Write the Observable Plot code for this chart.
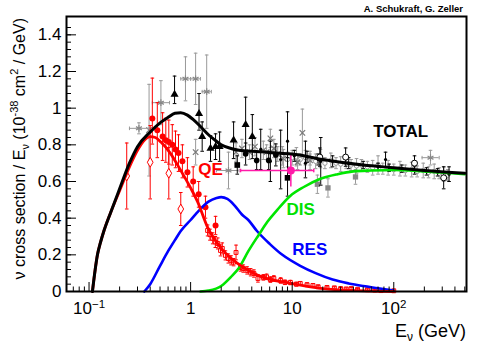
<!DOCTYPE html>
<html><head><meta charset="utf-8">
<script src="https://cdn.jsdelivr.net/npm/d3@7"></script>
<script src="https://cdn.jsdelivr.net/npm/@observablehq/plot@0.6"></script>
<style>
body{margin:0;background:#fff;}
#chart svg{display:block;font-family:"Liberation Sans",Arial,Helvetica,sans-serif;}
</style>
</head><body><div id="chart"></div>
<script>
// ---------- model curves (E in GeV, cross section / E in 1e-38 cm^2/GeV) ----------
const totalE  = [0.108,0.115,0.121,0.13,0.14,0.163,0.2,0.25,0.3,0.4,0.5,0.6,0.7,0.8,0.93,1.05,1.25,1.5,1.7,2.0,2.5,3,4,5,7,10,20,30,50,100,200,500];
const totalXS = [0,0.12,0.2,0.27,0.33,0.43,0.56,0.70,0.79,0.87,0.92,0.95,0.972,0.975,0.962,0.94,0.9,0.855,0.83,0.80,0.78,0.77,0.765,0.762,0.755,0.75,0.72,0.705,0.69,0.675,0.66,0.645];
const qeE  = [0.108,0.115,0.121,0.13,0.14,0.163,0.2,0.25,0.3,0.35,0.4,0.45,0.51,0.63,0.8,1.0,1.17,1.47,1.97,2.9,4.6,9.7,20,44,100];
const qeXS = [0,0.12,0.2,0.27,0.33,0.43,0.55,0.68,0.77,0.825,0.845,0.84,0.815,0.755,0.66,0.565,0.49,0.35,0.24,0.153,0.088,0.044,0.016,0.005,0];
const resE  = [0.35,0.4,0.5,0.6,0.7,0.8,1.0,1.2,1.5,1.8,2.0,2.3,2.7,3.2,3.7,4.5,6,8,12,17,25,36,50,70,100];
const resXS = [0,0.04,0.14,0.22,0.28,0.33,0.39,0.44,0.49,0.51,0.515,0.505,0.47,0.42,0.39,0.33,0.26,0.20,0.14,0.10,0.065,0.044,0.03,0.018,0.005];
const disE  = [1.25,1.5,2,2.5,3,3.7,4.7,5.7,7,9.5,13,19,28,40,60,100,200,500];
const disXS = [0,0.005,0.03,0.08,0.13,0.22,0.31,0.38,0.44,0.52,0.57,0.615,0.64,0.655,0.66,0.663,0.655,0.64];

// ---------- data points: [E, xs, errDown, errUp] ----------
const redFilled = [[0.42,0.944,0.14,0.22],[0.47,0.88,0.15,0.15],[0.53,0.845,0.13,0.13],[0.57,0.825,0.12,0.12],[0.61,0.815,0.12,0.12],[0.66,0.80,0.11,0.11],[0.71,0.775,0.10,0.10],[0.76,0.755,0.10,0.10],[0.83,0.71,0.09,0.09],[0.93,0.65,0.08,0.08],[1.06,0.60,0.08,0.08],[1.2,0.53,0.07,0.07],[1.4,0.46,0.06,0.06],[1.76,0.36,0.05,0.05]];
const redOpen = [[0.235,0.63,0.18,0.18],[0.40,0.705,0.2,0.2],[0.61,0.645,0.14,0.14],[0.80,0.45,0.09,0.09]];
const redSmall = [[1.47,0.333,0.03,0.03],[1.55,0.31,0.03,0.03],[1.65,0.29,0.03,0.03],[1.75,0.27,0.03,0.03],[1.85,0.262,0.03,0.03],[1.97,0.224,0.03,0.03],[2.05,0.235,0.03,0.03],[2.2,0.197,0.025,0.025],[2.35,0.18,0.025,0.025],[2.5,0.17,0.025,0.025],[2.65,0.16,0.02,0.02],[2.8,0.213,0.04,0.04],[3.1,0.131,0.02,0.02],[3.3,0.125,0.02,0.02],[3.6,0.115,0.02,0.02],[3.9,0.105,0.02,0.02],[4.2,0.098,0.02,0.02],[4.6,0.071,0.02,0.02],[5.2,0.077,0.015,0.015],[5.6,0.08,0.015,0.015],[6.1,0.065,0.015,0.015],[6.6,0.071,0.015,0.015],[7.7,0.06,0.015,0.015],[8.5,0.05,0.012,0.012],[9.6,0.049,0.012,0.012],[11,0.04,0.01,0.01],[12,0.044,0.01,0.01],[14,0.037,0.01,0.01],[16,0.033,0.01,0.01],[18,0.026,0.008,0.008],[22,0.022,0.008,0.008],[26,0.02,0.006,0.006],[30,0.016,0.006,0.006],[34,0.014,0.006,0.006],[38,0.016,0.006,0.006],[44,0.012,0.005,0.005],[55,0.01,0.005,0.005],[65,0.008,0.004,0.004],[75,0.005,0.004,0.004],[100,0.004,0.003,0.003]];
const blackTri = [[0.695,1.075,0.05,0.10],[1.21,0.97,0.09,0.11],[1.30,0.845,0.08,0.08],[1.57,0.78,0.07,0.07],[1.76,0.79,0.07,0.07],[1.93,0.79,0.08,0.08],[2.65,0.825,0.1,0.1],[3.48,0.91,0.15,0.15],[4.05,0.845,0.12,0.12]];
const blackCircle = [[3.48,0.75,0.06,0.06],[4.47,0.715,0.05,0.05],[5.87,0.715,0.05,0.05],[6.9,0.745,0.06,0.06]];
const blackSquare = [[2.88,0.69,0.05,0.05],[9.0,0.62,0.10,0.11]];
const blackBars = [[4.9,0.775,0.11,0.11],[6.1,0.71,0.11,0.11],[7.7,0.72,0.16,0.16],[9.0,0.82,0.16,0.16],[19.1,0.71,0.13,0.13],[13.5,0.70,0.08,0.12],[10.5,0.74,0.03,0.03],[14,0.735,0.03,0.03],[18,0.72,0.03,0.03],[25,0.71,0.03,0.03],[36,0.70,0.03,0.03],[50,0.69,0.02,0.02],[70,0.68,0.02,0.02],[83,0.72,0.04,0.04],[90,0.675,0.02,0.02],[120,0.67,0.02,0.02],[160,0.66,0.02,0.02],[210,0.655,0.02,0.02],[270,0.65,0.02,0.02],[350,0.64,0.04,0.04]];
const blackOpen = [[18.7,0.733,0.05,0.05],[33.6,0.733,0.05,0.05],[160,0.70,0.04,0.04],[310,0.62,0.06,0.06]];
// gray stars with horizontal bars: [E, xs, Elow, Ehigh, errDown, errUp]
const grayStar = [[0.31,0.89,0.25,0.39,0.03,0.03],[0.51,1.03,0.42,0.62,0.12,0.12],[0.89,1.16,0.80,1.0,0.12,0.12],[1.12,1.16,1.0,1.25,0.14,0.14],[1.44,1.09,1.3,1.6,0.2,0.2],[2.36,0.66,1.8,3.0,0.1,0.1],[230,0.73,190,280,0.04,0.04]];
const grayMisc = [[0.39,0.88,0.25,0.25],[1.12,0.76,0.07,0.07],[12.6,0.865,0.13,0.13],[2.8,0.76,0.05,0.05],[3.2,0.78,0.05,0.05],[3.8,0.76,0.04,0.04],[4.3,0.79,0.05,0.05],[5.2,0.77,0.05,0.05],[5.6,0.76,0.04,0.04],[6.1,0.835,0.05,0.05],[6.6,0.78,0.05,0.05],[7.2,0.75,0.04,0.04],[8.2,0.725,0.05,0.05],[11.3,0.705,0.04,0.04],[15,0.715,0.05,0.05]];
const grayBand = [[8,0.74,0.05,0.05],[9,0.72,0.04,0.04],[10,0.73,0.04,0.04],[11,0.735,0.05,0.05],[12,0.72,0.03,0.03],[13.5,0.73,0.04,0.04],[15,0.72,0.03,0.03],[17,0.71,0.04,0.04],[19,0.725,0.05,0.05],[21,0.70,0.03,0.03],[24,0.715,0.04,0.04],[27,0.70,0.03,0.03],[30,0.695,0.04,0.04],[34,0.70,0.03,0.03],[38,0.69,0.03,0.03],[43,0.685,0.04,0.04],[48,0.69,0.03,0.03],[55,0.68,0.03,0.03],[62,0.675,0.04,0.04],[70,0.69,0.05,0.05],[78,0.67,0.03,0.03],[88,0.675,0.04,0.04],[100,0.665,0.03,0.03],[115,0.67,0.04,0.04],[130,0.66,0.03,0.03],[150,0.665,0.04,0.04],[170,0.655,0.03,0.03],[195,0.66,0.04,0.04],[220,0.65,0.03,0.03],[250,0.655,0.04,0.04],[280,0.645,0.03,0.03],[310,0.64,0.04,0.04],[340,0.635,0.03,0.03]];
const graySquare = [[17.7,0.585,0.05,0.05],[22.5,0.565,0.05,0.05],[42,0.625,0.04,0.04]];
// magenta point: [E, xs, Elow, Ehigh, xsLow, xsHigh]
const magentaPt = [[9.7,0.66,3.1,16.3,0.57,0.745]];

// ---------- labels & ticks ----------
const curveLabels = [
  {text:"TOTAL", E:117, xs:0.875, color:"#000000"},
  {text:"QE", E:1.57, xs:0.667, color:"#ff0000"},
  {text:"DIS", E:12.1, xs:0.448, color:"#00e000"},
  {text:"RES", E:14.9, xs:0.23, color:"#0000ff"}
];
const xMajorTicks = [0.1, 1, 10, 100];
const xTickLabels = ["10^−1", "1", "10", "10^2"];
const yMajorTicks = [0, 0.2, 0.4, 0.6, 0.8, 1, 1.2, 1.4];
const yTickLabels = ["0", "0.2", "0.4", "0.6", "0.8", "1", "1.2", "1.4"];
const xMinorTicks = [];
for (const d of [-2,-1,0,1,2]) for (let k = 2; k <= 9; k++) { const v = k * Math.pow(10, d); if (v >= 0.06 && v <= 520) xMinorTicks.push(v); }
const yMinorTicks = d3.range(0, 37).map(i => i * 0.04).filter(v => v <= 1.5);

// ---------- helpers ----------
const curve = (E, XS) => E.map((e, i) => ({E: e, xs: XS[i]}));
const pts = arr => arr.map(([E, xs, lo, hi]) => ({E, xs, lo: xs - lo, hi: xs + hi}));
const capSym = {draw(ctx){ ctx.moveTo(-1.8,0); ctx.lineTo(1.8,0); }};
const vcapSym = {draw(ctx){ ctx.moveTo(0,-1.8); ctx.lineTo(0,1.8); }};
function errBars(data, color, sw = 1) {
  return [
    Plot.ruleX(data, {x:"E", y1:"lo", y2:"hi", stroke:color, strokeWidth:sw}),
    Plot.dot(data, {x:"E", y:"lo", symbol:capSym, stroke:color, fill:"none", strokeWidth:sw}),
    Plot.dot(data, {x:"E", y:"hi", symbol:capSym, stroke:color, fill:"none", strokeWidth:sw})
  ];
}
function hBars(data, color, sw = 1) {
  return [
    Plot.ruleY(data, {y:"xs", x1:"elo", x2:"ehi", stroke:color, strokeWidth:sw}),
    Plot.dot(data, {x:"elo", y:"xs", symbol:vcapSym, stroke:color, fill:"none", strokeWidth:sw}),
    Plot.dot(data, {x:"ehi", y:"xs", symbol:vcapSym, stroke:color, fill:"none", strokeWidth:sw})
  ];
}

const dRedFilled = pts(redFilled), dRedOpen = pts(redOpen), dRedSmall = pts(redSmall);
const dBlackTri = pts(blackTri), dBlackCircle = pts(blackCircle), dBlackSquare = pts(blackSquare), dBlackBars = pts(blackBars), dBlackOpen = pts(blackOpen);
const dGrayMisc = pts(grayMisc), dGrayBand = pts(grayBand), dGraySquare = pts(graySquare);
const dGrayStar = grayStar.map(([E, xs, elo, ehi, lo, hi]) => ({E, xs, elo, ehi, lo: xs - lo, hi: xs + hi}));
const dMagenta = magentaPt.map(([E, xs, elo, ehi, lo, hi]) => ({E, xs, elo, ehi, lo, hi}));

const RED = "#ff0000", GRAY = "#999999", BLACK = "#000000", MAG = "#ff1aa8";

const chart = Plot.plot({
  width: 498, height: 344,
  marginLeft: 66, marginRight: 32, marginTop: 16, marginBottom: 53,
  style: {fontFamily: '"Liberation Sans", Arial, sans-serif', background: "#fff"},
  x: {type: "log", domain: [0.06, 520]},
  y: {domain: [0, 1.5]},
  marks: [
    // gray data
    ...errBars(dGrayBand, GRAY), Plot.dot(dGrayBand, {x:"E", y:"xs", r:2.2, stroke:GRAY, fill:"white", strokeWidth:1}),
    ...errBars(dGrayMisc, GRAY), Plot.dot(dGrayMisc, {x:"E", y:"xs", symbol:"times", r:2.6, stroke:"#777", strokeWidth:1.2}),
    ...errBars(dGraySquare, GRAY), Plot.dot(dGraySquare, {x:"E", y:"xs", symbol:"square", r:3, fill:"#888"}),
    ...errBars(dGrayStar, GRAY), ...hBars(dGrayStar, GRAY), Plot.dot(dGrayStar, {x:"E", y:"xs", symbol:"asterisk", r:3.2, stroke:"#888", strokeWidth:1.2}),
    // black data
    ...errBars(dBlackBars, BLACK), Plot.dot(dBlackBars, {x:"E", y:"xs", r:1.6, fill:BLACK}),
    ...errBars(dBlackOpen, BLACK), Plot.dot(dBlackOpen, {x:"E", y:"xs", r:3, stroke:BLACK, fill:"white", strokeWidth:1}),
    ...errBars(dBlackTri, BLACK), Plot.dot(dBlackTri, {x:"E", y:"xs", symbol:"triangle", r:3, fill:BLACK}),
    ...errBars(dBlackCircle, BLACK), Plot.dot(dBlackCircle, {x:"E", y:"xs", r:2.8, fill:BLACK}),
    ...errBars(dBlackSquare, BLACK), Plot.dot(dBlackSquare, {x:"E", y:"xs", symbol:"square", r:3.2, fill:BLACK}),
    // magenta
    Plot.ruleX(dMagenta, {x:"E", y1:"lo", y2:"hi", stroke:MAG, strokeWidth:1.5}),
    ...hBars(dMagenta, MAG, 1.5),
    Plot.dot(dMagenta, {x:"E", y:"xs", r:4, fill:MAG}),
    // red data
    ...errBars(dRedSmall, RED), Plot.dot(dRedSmall, {x:"E", y:"xs", symbol:"square", r:2.2, stroke:RED, fill:"none", strokeWidth:1}),
    ...errBars(dRedOpen, RED), Plot.dot(dRedOpen, {x:"E", y:"xs", symbol:"diamond", r:3, stroke:RED, fill:"white", strokeWidth:1}),
    ...errBars(dRedFilled, RED), Plot.dot(dRedFilled, {x:"E", y:"xs", r:3, fill:RED}),
    // model curves
    Plot.line(curve(resE, resXS), {x:"E", y:"xs", stroke:"#0000ff", strokeWidth:2.6, curve:"monotone-x"}),
    Plot.line(curve(disE, disXS), {x:"E", y:"xs", stroke:"#00e600", strokeWidth:2.6, curve:"monotone-x"}),
    Plot.line(curve(qeE, qeXS), {x:"E", y:"xs", stroke:RED, strokeWidth:2.8, curve:"monotone-x"}),
    Plot.line(curve(totalE, totalXS), {x:"E", y:"xs", stroke:BLACK, strokeWidth:3, curve:"monotone-x"}),
    // curve labels
    Plot.text(curveLabels, {x:"E", y:"xs", text:"text", fill:"color", fontWeight:"bold", fontSize:17}),
    // axes: ticks pointing inward
    Plot.axisX({ticks: xMajorTicks, tickSize: -9, tickFormat: () => "", label: null, strokeWidth: 1}),
    Plot.axisX({ticks: xMinorTicks, tickSize: -4.5, tickFormat: () => "", label: null, strokeWidth: 1}),
    Plot.axisX({ticks: xMajorTicks, tickSize: 0, tickPadding: 10, fontSize: 17, label: null,
                tickFormat: d => xTickLabels[xMajorTicks.indexOf(d)]}),
    Plot.axisY({ticks: yMajorTicks, tickSize: -10, tickFormat: () => "", label: null}),
    Plot.axisY({ticks: yMinorTicks, tickSize: -5, tickFormat: () => "", label: null}),
    Plot.axisY({ticks: yMajorTicks, tickSize: 0, tickPadding: 5, fontSize: 17, label: null,
                tickFormat: d => yTickLabels[yMajorTicks.indexOf(d)]}),
    Plot.frame({stroke: BLACK, strokeWidth: 2})
  ]
});
document.getElementById("chart").appendChild(chart);

// superscripts in x tick labels
const svg = d3.select(chart);
svg.selectAll("text").each(function() {
  const t = this.textContent;
  if (t && t.includes("^")) {
    const [base, sup] = t.split("^");
    const el = d3.select(this);
    el.text(null);
    el.append("tspan").text(base);
    el.append("tspan").attr("dy", "-0.5em").attr("font-size", "0.68em").text(sup);
  }
});

// axis titles and credit
const font = '"Liberation Sans", Arial, sans-serif';
const yt = svg.append("text").attr("transform", "translate(25,18) rotate(-90)")
  .attr("text-anchor", "end").attr("font-size", 16).attr("font-family", font).attr("fill", "#000");
yt.append("tspan").text("ν cross section / E");
yt.append("tspan").attr("dy", 4).attr("font-size", 11).text("ν");
yt.append("tspan").attr("dy", -4).text(" (10");
yt.append("tspan").attr("dy", -7).attr("font-size", 11).text("-38");
yt.append("tspan").attr("dy", 7).text(" cm");
yt.append("tspan").attr("dy", -7).attr("font-size", 11).text("2");
yt.append("tspan").attr("dy", 7).text(" / GeV)");

const xt = svg.append("text").attr("x", 466).attr("y", 337)
  .attr("text-anchor", "end").attr("font-size", 18).attr("font-family", font).attr("fill", "#000");
xt.append("tspan").text("E");
xt.append("tspan").attr("dy", 4).attr("font-size", 12).text("ν");
xt.append("tspan").attr("dy", -4).text(" (GeV)");

svg.append("text").attr("x", 463).attr("y", 12).attr("text-anchor", "end")
  .attr("font-size", 9.5).attr("font-weight", "bold").attr("font-family", font).attr("fill", "#000")
  .text("A. Schukraft, G. Zeller");
</script></body></html>
